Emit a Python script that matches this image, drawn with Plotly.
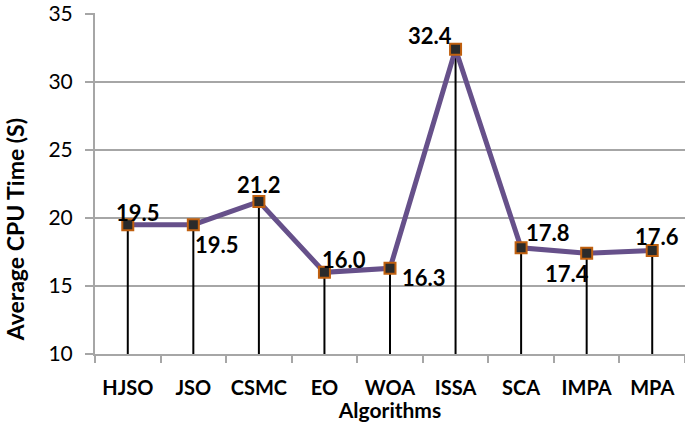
"""Average CPU time per algorithm, line chart with drop lines."""
import plotly.graph_objects as go

algorithms = ["HJSO", "JSO", "CSMC", "EO", "WOA", "ISSA", "SCA", "IMPA", "MPA"]
cpu_time = [19.5, 19.5, 21.2, 16.0, 16.3, 32.4, 17.8, 17.4, 17.6]
labels = ["19.5", "19.5", "21.2", "16.0", "16.3", "32.4", "17.8", "17.4", "17.6"]

Y_MIN = 10
# label offsets (px) so the numbers sit where the original puts them
label_shift = [(10, 12), (24, -20), (0, 17), (20, 13), (34, -9),
               (-26, 14), (27, 15), (-20, -20), (5, 14)]

FONT = "Lato, 'Open Sans', sans-serif"
GRID = "#A6A6A6"

fig = go.Figure()

fig.add_trace(go.Scatter(
    x=algorithms, y=cpu_time,
    mode="lines+markers",
    line=dict(color="#66508A", width=5),
    marker=dict(symbol="square", size=11, color="#2B2B2B",
                line=dict(color="#C0600F", width=2)),
    error_y=dict(type="data", symmetric=False,
                 array=[0] * len(cpu_time),
                 arrayminus=[v - Y_MIN for v in cpu_time],
                 color="black", thickness=2, width=0),
    showlegend=False,
    hoverinfo="x+y",
))

for name, val, txt, (dx, dy) in zip(algorithms, cpu_time, labels, label_shift):
    fig.add_annotation(x=name, y=val, text=f"<b>{txt}</b>", showarrow=False,
                       xshift=dx, yshift=dy,
                       font=dict(family=FONT, size=22, color="black"))

# y title sits a bit below the plot's middle in the original, so place it by hand
fig.add_annotation(x=-0.136, y=0.365, xref="paper", yref="paper",
                   xanchor="center", yanchor="middle",
                   text="<b>Average CPU Time (S)</b>", textangle=-90, showarrow=False,
                   font=dict(family=FONT, size=23, color="black"))

fig.update_layout(
    width=685, height=422,
    margin=dict(l=95, r=0, t=8, b=68),
    plot_bgcolor="white", paper_bgcolor="white",
    font=dict(family=FONT, color="black"),
)
fig.update_xaxes(
    range=[-0.5, 8.5],
    showline=True, linecolor=GRID, linewidth=2,
    ticks="outside", tickson="boundaries", tickcolor=GRID, ticklen=7, tickwidth=1.5,
    showgrid=False,
    tickangle=0,
    tickfont=dict(family=FONT, size=20),
    tickprefix="<b>", ticksuffix="</b>",
    ticklabelstandoff=15,
    title=dict(text="<b>Algorithms</b>", font=dict(family=FONT, size=21), standoff=0),
)
fig.update_yaxes(
    range=[10, 35.06], tickvals=[10, 15, 20, 25, 30, 35],
    showline=True, linecolor=GRID, linewidth=2,
    ticks="outside", tickcolor=GRID, ticklen=8, tickwidth=1.5,
    showgrid=True, gridcolor=GRID, gridwidth=1.5,
    zeroline=False,
    tickfont=dict(family=FONT, size=21),
    tickprefix="<b>", ticksuffix="</b>",
    ticklabeloverflow="allow",
    ticklabelstandoff=8,
)

fig.write_html("out.html", config={"displayModeBar": False},
               post_script="document.body.style.margin='0';")
